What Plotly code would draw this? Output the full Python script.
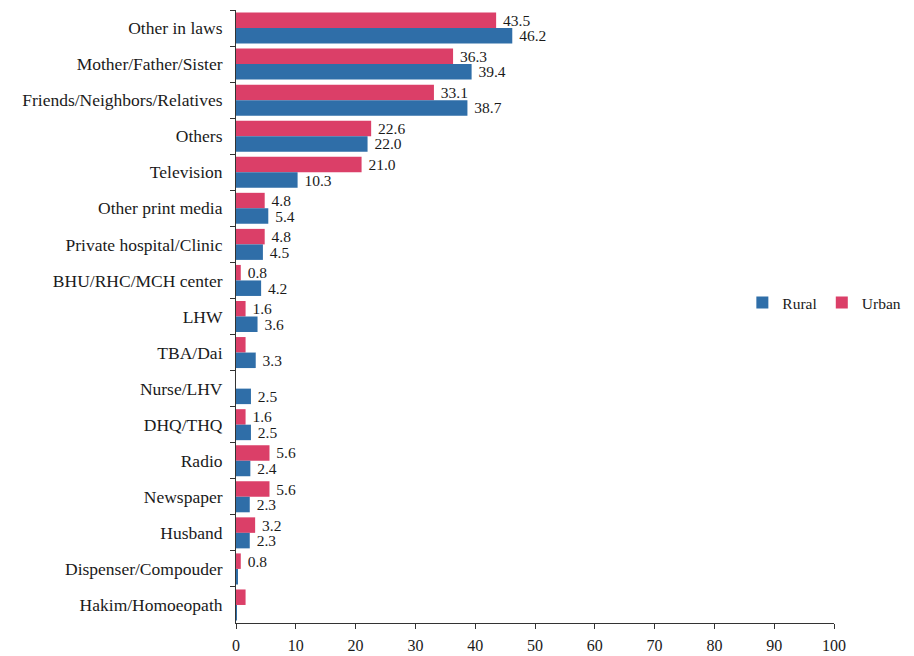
import plotly.graph_objects as go

categories = ["Other in laws", "Mother/Father/Sister", "Friends/Neighbors/Relatives", "Others",
              "Television", "Other print media", "Private hospital/Clinic", "BHU/RHC/MCH center",
              "LHW", "TBA/Dai", "Nurse/LHV", "DHQ/THQ", "Radio", "Newspaper", "Husband",
              "Dispenser/Compouder", "Hakim/Homoeopath"]
rural = [46.2, 39.4, 38.7, 22.0, 10.3, 5.4, 4.5, 4.2, 3.6, 3.3, 2.5, 2.5, 2.4, 2.3, 2.3, 0.2, 0.1]
urban = [43.5, 36.3, 33.1, 22.6, 21.0, 4.8, 4.8, 0.8, 1.6, 1.6, 0.0, 1.6, 5.6, 5.6, 3.2, 0.8, 1.6]
rural_labels = ["46.2", "39.4", "38.7", "22.0", "10.3", "5.4", "4.5", "4.2", "3.6", "3.3", "2.5",
                "2.5", "2.4", "2.3", "2.3", "", ""]
urban_labels = ["43.5", "36.3", "33.1", "22.6", "21.0", "4.8", "4.8", "0.8", "1.6", "", "",
                "1.6", "5.6", "5.6", "3.2", "0.8", ""]
x_ticks = [0, 10, 20, 30, 40, 50, 60, 70, 80, 90, 100]

FONT = "Liberation Serif"
TXT = "#1a1a1a"

fig = go.Figure()
fig.add_trace(go.Bar(y=categories, x=urban, name="Urban", orientation="h",
                     marker=dict(color="#DB3F68", line=dict(width=0)),
                     text=urban_labels, texttemplate=" %{text}", textposition="outside",
                     cliponaxis=False, constraintext="none", hoverinfo="x+y",
                     textfont=dict(family=FONT, size=15.5, color=TXT)))
fig.add_trace(go.Bar(y=categories, x=rural, name="Rural", orientation="h",
                     marker=dict(color="#2F6EA8", line=dict(width=0)),
                     text=rural_labels, texttemplate=" %{text}", textposition="outside",
                     cliponaxis=False, constraintext="none", hoverinfo="x+y",
                     textfont=dict(family=FONT, size=15.5, color=TXT)))

# page body has an 8px default margin, so the figure is sized 906x648
fig.update_layout(
    width=906, height=648,
    margin=dict(l=228, r=80, t=2, b=33, autoexpand=False),
    barmode="group", bargap=0.14, bargroupgap=0,
    plot_bgcolor="white", paper_bgcolor="white",
    font=dict(family=FONT, size=16, color=TXT),
    showlegend=True,
    legend=dict(orientation="h", traceorder="reversed", x=1.121, y=0.522,
                xanchor="right", yanchor="middle", font=dict(family=FONT, size=15.5, color=TXT),
                bgcolor="rgba(0,0,0,0)"),
    xaxis=dict(range=[0, 100], tickvals=x_ticks, ticks="outside", ticklen=5,
               tickcolor="#333", showline=True, linecolor="#333", linewidth=1,
               showgrid=False, zeroline=False, automargin=False, ticklabelstandoff=3,
               tickfont=dict(family=FONT, size=16, color=TXT)),
    yaxis=dict(autorange="reversed", ticks="outside", ticklen=5, tickcolor="#333",
               tickson="boundaries", showline=True, linecolor="#333", linewidth=1,
               showgrid=False, automargin=False, ticklabelstandoff=9,
               tickfont=dict(family=FONT, size=17.5, color=TXT)),
)

fig.write_html("out.html")
